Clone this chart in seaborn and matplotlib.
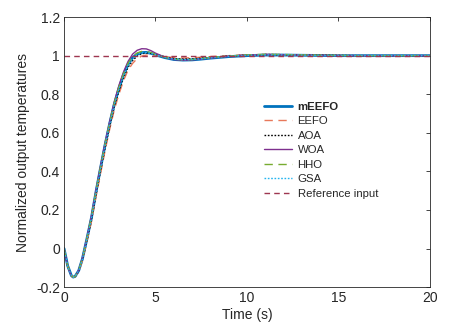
import numpy as np
import pandas as pd
import matplotlib
matplotlib.use("Agg")
import matplotlib.pyplot as plt
import seaborn as sns

# --- data ---
T = [0, 0.2, 0.4, 0.5, 0.6, 0.8, 1.0, 1.25, 1.5, 1.75, 2.0, 2.25, 2.5, 2.75, 3.0,
     3.25, 3.5, 3.75, 4.0, 4.25, 4.5, 4.75, 5.0, 5.5, 6.0, 6.5, 7.0, 7.5, 8.0, 9.0,
     10, 11, 12, 13, 14, 15, 16, 17, 18, 19, 20]

MEEFO = [0, -0.09, -0.14, -0.148, -0.145, -0.115, -0.055, 0.05, 0.16, 0.295, 0.42,
         0.54, 0.65, 0.75, 0.83, 0.9, 0.955, 0.99, 1.008, 1.016, 1.017, 1.012, 1.004,
         0.99, 0.98, 0.977, 0.978, 0.982, 0.987, 0.995, 1.0, 1.003, 1.003, 1.002,
         1.001, 1.0, 1.0, 1.0, 1.0, 1.0, 1.0]
EEFO = [0, -0.088, -0.138, -0.147, -0.146, -0.12, -0.065, 0.035, 0.14, 0.27, 0.39,
        0.51, 0.62, 0.72, 0.80, 0.87, 0.925, 0.96, 0.985, 0.998, 1.003, 1.004, 1.002,
        0.995, 0.99, 0.988, 0.989, 0.992, 0.995, 1.0, 1.004, 1.006, 1.005, 1.003,
        1.002, 1.001, 1.0, 1.0, 1.0, 1.0, 1.0]
AOA = [0, -0.09, -0.14, -0.149, -0.147, -0.118, -0.06, 0.04, 0.15, 0.28, 0.405,
       0.525, 0.635, 0.735, 0.815, 0.885, 0.94, 0.975, 0.998, 1.01, 1.014, 1.012,
       1.006, 0.994, 0.985, 0.982, 0.983, 0.987, 0.991, 0.998, 1.003, 1.006, 1.005,
       1.003, 1.002, 1.001, 1.0, 1.0, 1.0, 1.0, 1.0]
WOA = [0, -0.092, -0.143, -0.15, -0.146, -0.113, -0.05, 0.055, 0.17, 0.305, 0.43,
       0.55, 0.66, 0.76, 0.845, 0.915, 0.97, 1.008, 1.028, 1.036, 1.035, 1.026,
       1.013, 0.993, 0.98, 0.976, 0.978, 0.983, 0.988, 0.997, 1.003, 1.006, 1.005,
       1.003, 1.001, 1.0, 1.0, 1.0, 1.0, 1.0, 1.0]
HHO = [0, -0.091, -0.141, -0.149, -0.146, -0.114, -0.053, 0.052, 0.165, 0.3, 0.425,
       0.545, 0.655, 0.755, 0.835, 0.905, 0.96, 0.995, 1.014, 1.022, 1.022, 1.016,
       1.007, 0.992, 0.982, 0.979, 0.98, 0.985, 0.99, 0.998, 1.004, 1.007, 1.006,
       1.004, 1.002, 1.001, 1.0, 1.0, 1.0, 1.0, 1.0]
GSA = [0, -0.09, -0.14, -0.148, -0.145, -0.116, -0.057, 0.047, 0.157, 0.29, 0.415,
       0.535, 0.645, 0.745, 0.825, 0.895, 0.95, 0.985, 1.005, 1.014, 1.016, 1.012,
       1.005, 0.992, 0.982, 0.979, 0.98, 0.984, 0.989, 0.997, 1.002, 1.004, 1.004,
       1.003, 1.001, 1.0, 1.0, 1.0, 1.0, 1.0, 1.0]
REF_T = [0, 20]
REF = [1.0, 1.0]

# --- style ---
sns.set_style("white")
plt.rcParams['font.family'] = ['Liberation Sans', 'DejaVu Sans']
plt.rcParams['axes.edgecolor'] = '#262626'
plt.rcParams['xtick.color'] = '#262626'
plt.rcParams['ytick.color'] = '#262626'

fig = plt.figure(figsize=(4.51, 3.35), dpi=100)
ax = fig.add_axes([0.142, 0.143, 0.811, 0.806])

series = [
    ("mEEFO", MEEFO, "#0072BD", 2.0, ""),
    ("EEFO", EEFO, "#E8785A", 1.0, (6, 4)),
    ("AOA", AOA, "black", 1.0, (1.2, 1.2)),
    ("WOA", WOA, "#7E2F8E", 1.0, ""),
    ("HHO", HHO, "#77AC30", 1.0, (6, 4)),
    ("GSA", GSA, "#22B5F0", 1.0, (1.2, 1.2)),
]
for name, vals, col, lw, dash in series:
    sns.lineplot(x=T, y=vals, ax=ax, color=col, linewidth=lw, label=name,
                 dashes=False)
    line = ax.get_lines()[-1]
    if dash:
        line.set_dashes(dash)

sns.lineplot(x=REF_T, y=REF, ax=ax, color="#9E3650", linewidth=1.0,
             label="Reference input")
ax.get_lines()[-1].set_dashes((4, 3))

ax.set_xlim(0, 20)
ax.set_ylim(-0.2, 1.2)
ax.set_xticks([0, 5, 10, 15, 20])
ax.set_yticks([-0.2, 0, 0.2, 0.4, 0.6, 0.8, 1, 1.2])
ax.set_yticklabels(["-0.2", "0", "0.2", "0.4", "0.6", "0.8", "1", "1.2"])
ax.tick_params(direction='in', top=True, right=True, length=3, width=0.6,
               labelsize=10, pad=3)
for sp in ax.spines.values():
    sp.set_linewidth(0.6)
ax.set_xlabel("Time (s)", fontsize=10, labelpad=2)
ax.set_ylabel("Normalized output temperatures", fontsize=10, labelpad=4)

leg = ax.legend(loc='upper left', bbox_to_anchor=(0.52, 0.725), frameon=False,
                fontsize=8.2, handlelength=2.4, labelspacing=0.4, handletextpad=0.5)
leg.get_texts()[0].set_fontweight('bold')

fig.savefig("out.png", dpi=100)
